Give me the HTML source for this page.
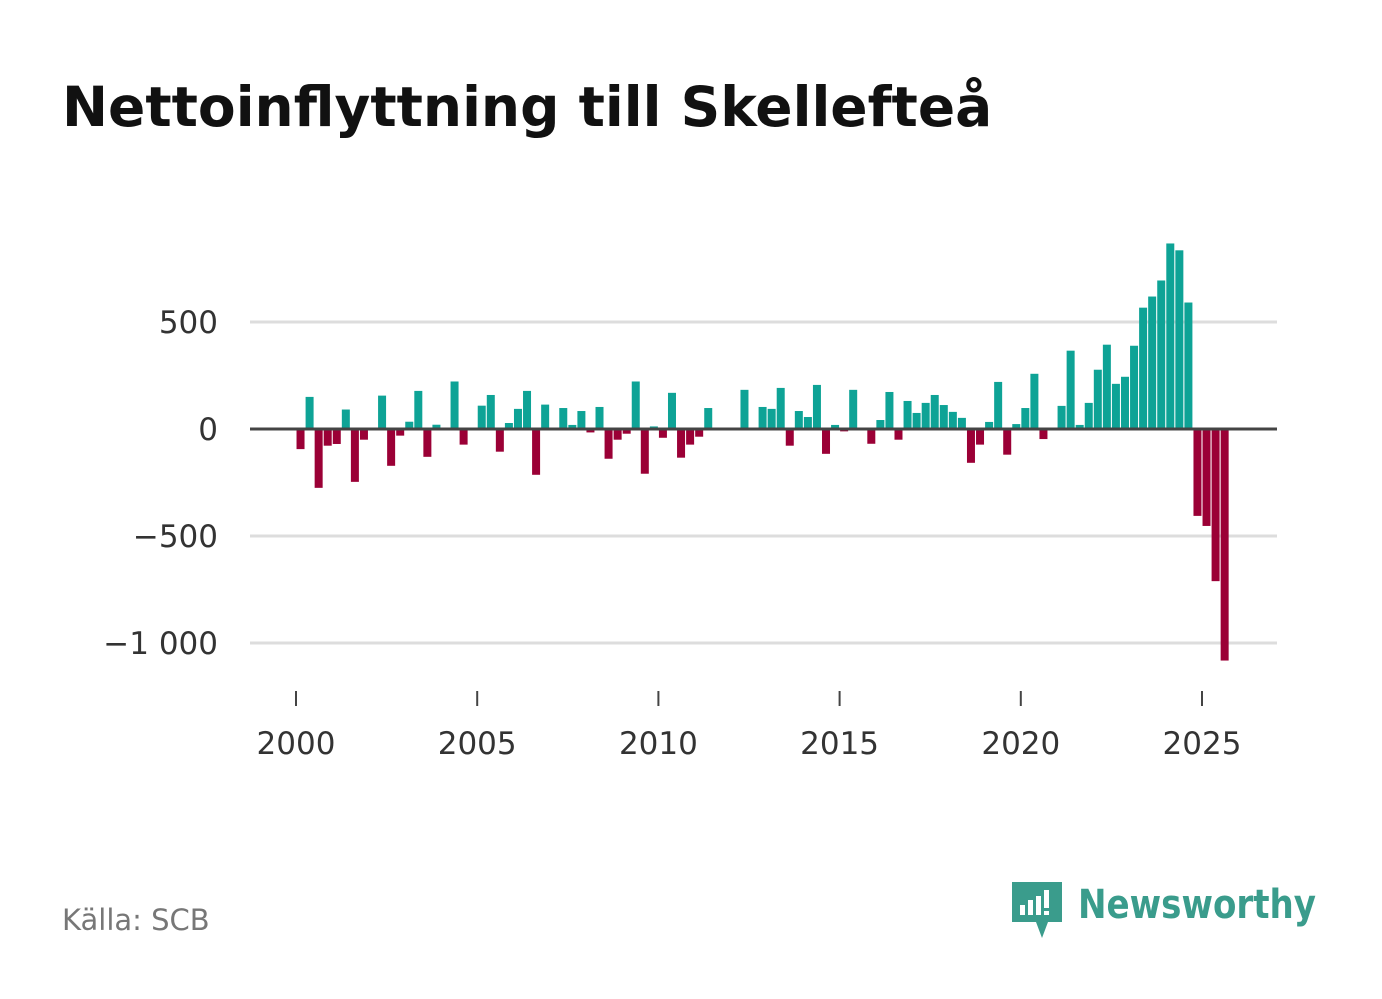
<!DOCTYPE html>
<html><head><meta charset="utf-8"><style>
body{margin:0;background:#fff;font-family:"Liberation Sans","DejaVu Sans",sans-serif;}
#wrap{position:relative;width:1382px;height:999px;overflow:hidden;}
</style></head><body>
<div id="wrap">
<svg id="c" width="1382" height="999">
<text x="62" y="126" font-size="55" font-weight="bold" fill="#111" font-family="'DejaVu Sans',sans-serif">Nettoinflyttning till Skellefteå</text>
<g id="grid"></g>
<g id="bars"></g>
<g id="axes"></g>
<text x="62" y="930" font-size="29" fill="#777" font-family="'DejaVu Sans',sans-serif">Källa: SCB</text>
<g>
<path d="M1012 882 h50 v40 h-14 l-6 16 l-6 -16 h-24 z" fill="#3a9c8c"/>
<rect x="1020" y="905" width="5" height="10" fill="#fff"/>
<rect x="1028" y="900" width="5" height="15" fill="#fff"/>
<rect x="1036" y="896" width="5" height="19" fill="#fff"/>
<rect x="1044" y="890" width="5" height="18" fill="#fff"/>
<rect x="1044" y="911" width="5" height="4" fill="#fff"/>
<text x="1078" y="918" font-size="40" font-weight="bold" fill="#3a9c8c" textLength="238" lengthAdjust="spacingAndGlyphs" font-family="'DejaVu Sans',sans-serif">Newsworthy</text>
</g>
</svg>
</div>
<script>
const values=[-94,150,-275,-78,-70,91,-247,-50,0,156,-172,-31,34,178,-130,20,0,222,-73,0,109,159,-106,28,94,178,-214,114,0,98,19,84,-16,103,-139,-50,-22,222,-209,12,
-41,169,-134,-73,-36,98,0,0,0,183,0,103,94,192,-78,84,56,206,-116,19,-11,183,0,-69,42,173,-50,131,75,122,159,112,80,52,-158,-73,33,220,-120,23,
98,258,-47,0,108,366,19,122,277,394,211,244,389,567,619,694,867,835,591,-406,-453,-711,-1082];
const startYear=2000;
const yTicks=[500,0,-500,-1000];
const yTickLabels=["500","0","−500","−1 000"];
const xTicks=[2000,2005,2010,2015,2020,2025];
const NS="http://www.w3.org/2000/svg";
function y(v){return 429-v*(214/1000);}
function x(t){return 296+(t-2000)*(906/25);}
function mk(tag,attrs,parent){const e=document.createElementNS(NS,tag);for(const k in attrs)e.setAttribute(k,attrs[k]);parent.appendChild(e);return e;}
const grid=document.getElementById('grid'),bars=document.getElementById('bars'),axes=document.getElementById('axes');
yTicks.forEach((t,i)=>{
 if(t!==0){const l=mk('line',{x1:250,x2:1277,y1:y(t),y2:y(t),stroke:'#ddd','stroke-width':3},grid);
 
 }
 const tx=mk('text',{x:218,y:y(t)+11,'text-anchor':'end','font-size':31,fill:'#333','font-family':"'DejaVu Sans',sans-serif"},axes);
 tx.textContent=yTickLabels[i];
 
 
});
values.forEach((v,i)=>{
 if(v===0)return;
 const cx=x(startYear+(i+0.5)/4);
 const r=mk('rect',{x:cx-4,width:8,y:Math.min(y(v),y(0)),height:Math.abs(y(v)-y(0)),fill:v>0?'#0ea396':'#9b0036'},bars);
 
 
});
const z=mk('line',{x1:250,x2:1277,y1:y(0),y2:y(0),stroke:'#444','stroke-width':3},axes);


xTicks.forEach(t=>{
 const l=mk('line',{x1:x(t),x2:x(t),y1:691,y2:706,stroke:'#444','stroke-width':2},axes);
 
 
 const tx=mk('text',{x:x(t),y:754,'text-anchor':'middle','font-size':31,fill:'#333','font-family':"'DejaVu Sans',sans-serif"},axes);
 tx.textContent=t;
 
 
});
</script>
</body></html>
